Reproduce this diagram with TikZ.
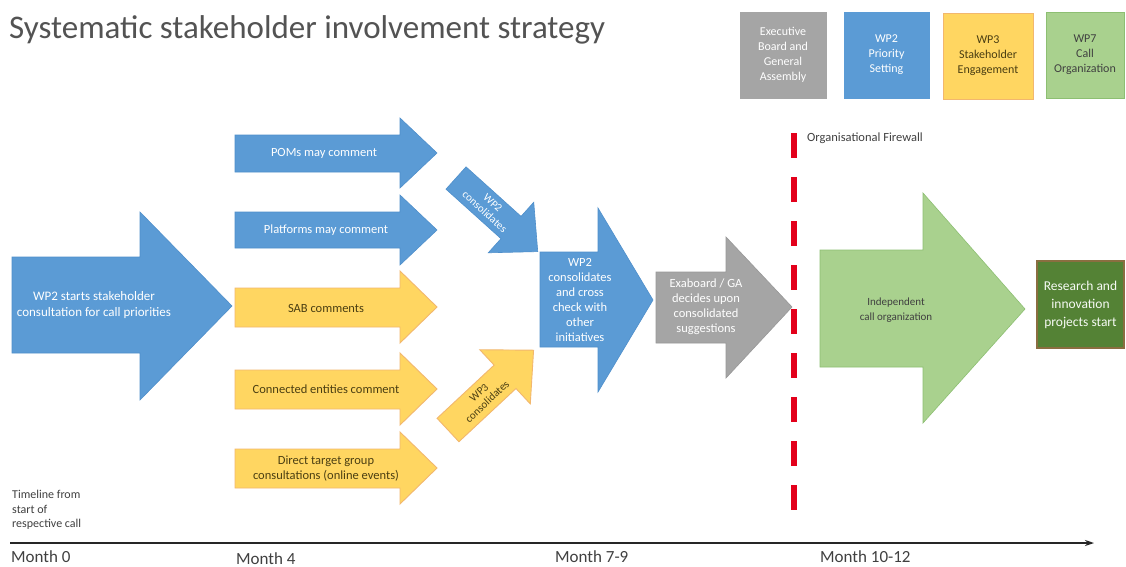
\documentclass[tikz,border=0pt]{standalone}
\usepackage{fontspec}
\setmainfont{Carlito}
\usetikzlibrary{arrows.meta}

\definecolor{wpblue}{HTML}{5B9BD5}
\definecolor{wpblueline}{HTML}{4F8FCB}
\definecolor{wpyellow}{HTML}{FFD661}
\definecolor{wpyellowline}{HTML}{F2B76E}
\definecolor{wpgray}{HTML}{A5A5A5}
\definecolor{wpgreen}{HTML}{A9D18E}
\definecolor{wpgreenline}{HTML}{8DBF72}
\definecolor{wpdark}{HTML}{548235}
\definecolor{wpdarkline}{HTML}{8A6E40}
\definecolor{firewall}{HTML}{E3001B}
\definecolor{inktext}{HTML}{404040}
\definecolor{olivetext}{HTML}{4A3E12}

\begin{document}
\begin{tikzpicture}[
  x=1pt,
  y=-1pt,
  line join=miter,
  blueshape/.style={fill=wpblue, draw=wpblueline, line width=0.6},
  yellowshape/.style={fill=wpyellow, draw=wpyellowline, line width=0.9},
  grayshape/.style={fill=wpgray, draw=wpgray!92!black, line width=0.6},
  greenshape/.style={fill=wpgreen, draw=wpgreenline, line width=0.6},
  legend/.style={minimum height=86, align=center, line width=0.9,
    font=\fontsize{12}{15}\selectfont},
  txt/.style={font=\fontsize{12.5}{15}\selectfont, align=center},
  whitetxt/.style={txt, text=white},
  darktxt/.style={txt, text=olivetext},
  month/.style={font=\fontsize{17}{19}\selectfont, text=inktext, anchor=west},
  every node/.style={inner sep=0}
]
\path[use as bounding box] (0,0) rectangle (1126,567);
\fill[white] (0,0) rectangle (1126,567);

% Title and colour legend
\node[anchor=base west, font=\fontsize{33}{36}\selectfont, text=inktext!90!white] (title) at (9,39)
  {Systematic stakeholder involvement strategy};
\node[legend, fill=wpgray, draw=wpgray, text=white, minimum width=86] (legexec) at (783,55)
  {Executive\\Board and\\General\\Assembly};
\node[legend, fill=wpblue, draw=wpblue, text=white, minimum width=85] (legwptwo) at (886.5,55)
  {WP2\\Priority\\Setting};
\node[legend, fill=wpyellow, draw=wpyellowline, text=olivetext, minimum width=90] (legwpthree) at (988,56)
  {WP3\\Stakeholder\\Engagement};
\node[legend, fill=wpgreen, draw=wpgreenline, text=inktext, minimum width=78] (legwpseven) at (1085,55)
  {WP7\\Call\\Organization};

% Start of the consultation
\draw[blueshape] (12,257) -- (140,257) -- (140,212) -- (232,306) -- (140,400) -- (140,353) -- (12,353) -- cycle;
\node[whitetxt, font=\fontsize{13}{16}\selectfont] (start) at (94,305)
  {WP2 starts stakeholder\\consultation for call priorities};

% Comment rounds
\draw[blueshape] (235,135) -- (400,135) -- (400,118) -- (437,153) -- (400,188) -- (400,172) -- (235,172) -- cycle;
\node[whitetxt] (poms) at (324,153) {POMs may comment};

\draw[blueshape] (235,212) -- (400,212) -- (400,195) -- (437,230) -- (400,265) -- (400,248) -- (235,248) -- cycle;
\node[whitetxt] (platforms) at (326,230) {Platforms may comment};

\draw[yellowshape] (235,288) -- (400,288) -- (400,271) -- (437,307) -- (400,343) -- (400,327) -- (235,327) -- cycle;
\node[darktxt] (sab) at (326,308) {SAB comments};

\draw[yellowshape] (235,370) -- (400,370) -- (400,353) -- (437,389) -- (400,425) -- (400,409) -- (235,409) -- cycle;
\node[darktxt] (entities) at (326,389) {Connected entities comment};

\draw[yellowshape] (235,449) -- (400,449) -- (400,432) -- (437,468) -- (400,504) -- (400,488) -- (235,488) -- cycle;
\node[darktxt] (direct) at (326,469) {Direct target group\\consultations (online events)};

% Consolidation by WP2 and WP3
\begin{scope}[shift={(456,178)}, rotate=-42]
  \draw[blueshape] (0,-15) -- (74,-15) -- (74,-34) -- (110,0) -- (74,34) -- (74,15) -- (0,15) -- cycle;
  \node[whitetxt, transform shape, font=\fontsize{11}{12}\selectfont] (wptwocons) at (44,0) {WP2\\consolidates};
\end{scope}
\begin{scope}[shift={(448,430)}, rotate=43]
  \draw[yellowshape] (0,-16) -- (78,-16) -- (78,-37) -- (117,0) -- (78,37) -- (78,16) -- (0,16) -- cycle;
  \node[darktxt, transform shape, font=\fontsize{11}{12}\selectfont] (wpthreecons) at (48,0) {WP3\\consolidates};
\end{scope}

\draw[blueshape] (540,252) -- (598,252) -- (598,208) -- (653,300) -- (598,392) -- (598,347) -- (540,347) -- cycle;
\node[whitetxt] (crosscheck) at (580,300) {WP2\\consolidates\\and cross\\check with\\other\\initiatives};

\draw[grayshape] (656,272) -- (726,272) -- (726,237) -- (792,307) -- (726,378) -- (726,343) -- (656,343) -- cycle;
\node[whitetxt] (exaboard) at (706,307) {Exaboard / GA\\decides upon\\consolidated\\suggestions};

% Firewall
\coordinate (fwtop) at (794,133);
\coordinate (fwbottom) at (794,512);
\draw[firewall, line width=5.5, dash pattern=on 25 off 19] (fwtop) -- (fwbottom);
\node[anchor=west, font=\fontsize{12.5}{14}\selectfont, text=inktext] (fwlabel) at (807,138) {Organisational Firewall};

% Call organisation and project start
\draw[greenshape] (820,250) -- (923,250) -- (923,193) -- (1025,309) -- (923,423) -- (923,367) -- (820,367) -- cycle;
\node[txt, text=inktext, font=\fontsize{11}{15}\selectfont] (callorg) at (896,310) {Independent\\call organization};
\node[fill=wpdark, draw=wpdarkline, line width=1.2, minimum width=87, minimum height=87,
  txt, font=\fontsize{13.5}{18}\selectfont, text=white!90!wpgreen] (projects) at (1080.5,304.5)
  {Research and\\innovation\\projects start};

% Timeline
\node[anchor=north west, align=left, font=\fontsize{12}{14.5}\selectfont, text=inktext] (tlnote) at (12,490)
  {Timeline from\\start of\\respective call};
\coordinate (tlstart) at (10,543);
\coordinate (tlend) at (1094,543);
\draw[line width=1.6, draw=black!85, -{Stealth[length=9,width=6]}] (tlstart) -- (tlend);
\node[month] (mzero) at (11,557) {Month 0};
\node[month] (mfour) at (236,559) {Month 4};
\node[month] (mseven) at (555,557) {Month 7-9};
\node[month] (mten) at (820,557) {Month 10-12};

\end{tikzpicture}
\end{document}
